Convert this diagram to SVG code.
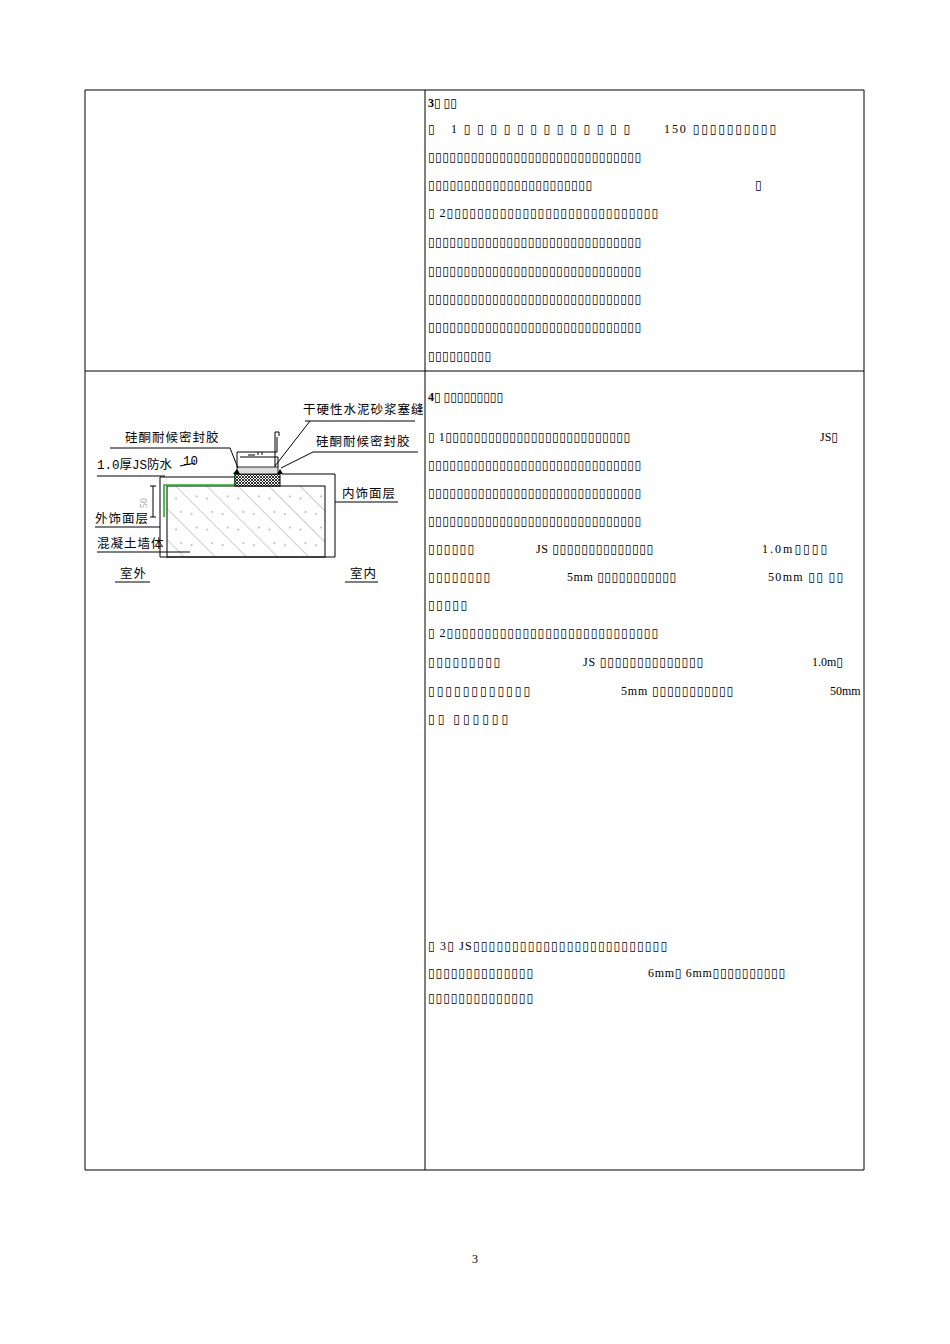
<svg xmlns="http://www.w3.org/2000/svg" width="950" height="1344" viewBox="0 0 950 1344">
<style>
.t{font-family:"Liberation Serif","DejaVu Serif",serif;font-size:12px;fill:#000}
.c{font-family:"Noto Sans CJK SC","DejaVu Sans",sans-serif;font-size:12.5px;fill:#000;letter-spacing:1px}
.l{stroke:#000;stroke-width:1;fill:none}
</style>
<defs>
<pattern id="hatch" patternUnits="userSpaceOnUse" width="22" height="22" patternTransform="rotate(-45)">
<line x1="0" y1="0" x2="0" y2="22" stroke="#555" stroke-width="0.6"/>
<circle cx="8" cy="6" r="0.7" fill="#666"/><circle cx="14" cy="15" r="0.7" fill="#666"/>
</pattern>
<pattern id="mesh" patternUnits="userSpaceOnUse" width="3" height="3">
<rect width="3" height="3" fill="#fff"/><path d="M0 0L3 3M3 0L0 3" stroke="#000" stroke-width="0.8"/>
</pattern>
</defs>
<g id="table">
<line class="l" x1="85" y1="90" x2="864" y2="90" stroke-width="1.5"/>
<line class="l" x1="85" y1="371" x2="864" y2="371"/>
<line class="l" x1="85" y1="1170" x2="864" y2="1170"/>
<line class="l" x1="85" y1="90" x2="85" y2="1170"/>
<line class="l" x1="425" y1="90" x2="425" y2="1170"/>
<line class="l" x1="864" y1="90" x2="864" y2="1170"/>
</g>
<g id="drawing">
<rect x="167" y="486" width="158" height="71" fill="url(#hatch)" stroke="#000"/>
<path class="l" d="M160 557V477H237M282 474H335V557H160"/>
<path d="M164 517V485H235V475H238" stroke="#1db31d" stroke-width="1.6" fill="none"/>
<rect x="235" y="474" width="45" height="12" fill="url(#mesh)" stroke="#000"/>
<rect x="237" y="467" width="41" height="7" fill="#ddd" stroke="#000" stroke-width="0.8"/>
<path class="l" d="M237 467V452H277M240 457H278V467M277 452V437M275 467V432H279V436M248 455H255M258 452v3M262 452v3"/>
<path d="M233 474l4-5 3 5zM277 474l3-5 3 5z" fill="#000"/>
<path class="l" d="M153 486V517M150 486H156M150 517H156" stroke-width="0.7"/>
<text x="147" y="503" transform="rotate(-90 147 503)" class="t" style="font-size:10px;fill:#999" text-anchor="middle">50</text>
<path class="l" d="M305 421H415M275 466L310 421M110 448H230L238 468M418 452H313L281 468M97 476H165M180 466L195 463M335 502H398M95 527H160M97 552H190M115 582H150M345 582H378" stroke-width="0.8"/>
<text class="c" x="303" y="414">干硬性水泥砂浆塞缝</text>
<text class="c" x="125" y="442">硅酮耐候密封胶</text>
<text class="c" x="316" y="446">硅酮耐候密封胶</text>
<text class="c" x="97" y="469" style="font-family:'Liberation Mono','Noto Sans CJK SC',monospace;letter-spacing:0">1.0厚JS防水</text>
<text class="c" x="183" y="465" style="font-family:'Liberation Mono',monospace;letter-spacing:0">10</text>
<text class="c" x="342" y="498">内饰面层</text>
<text class="c" x="95" y="523">外饰面层</text>
<text class="c" x="97" y="548">混凝土墙体</text>
<text class="c" x="120" y="578">室外</text>
<text class="c" x="350" y="578">室内</text>
</g>
<g id="text" class="t">
<text x="428" y="107"><tspan font-weight="bold">3</tspan>▯  ▯▯</text>
<text x="428" y="133" textLength="202" lengthAdjust="spacing">▯ 1▯▯▯▯▯▯▯▯▯▯▯▯▯</text>
<text x="664" y="133" textLength="112" lengthAdjust="spacing">150 ▯▯▯▯▯▯▯▯▯▯</text>
<text x="428" y="161" textLength="213" lengthAdjust="spacing">▯▯▯▯▯▯▯▯▯▯▯▯▯▯▯▯▯▯▯▯▯▯▯▯▯▯▯▯▯▯</text>
<text x="428" y="189" textLength="164" lengthAdjust="spacing">▯▯▯▯▯▯▯▯▯▯▯▯▯▯▯▯▯▯▯▯▯▯▯</text>
<text x="755" y="189">▯</text>
<text x="428" y="217" textLength="230" lengthAdjust="spacing">▯ 2▯▯▯▯▯▯▯▯▯▯▯▯▯▯▯▯▯▯▯▯▯▯▯▯▯▯▯▯</text>
<text x="428" y="246" textLength="213" lengthAdjust="spacing">▯▯▯▯▯▯▯▯▯▯▯▯▯▯▯▯▯▯▯▯▯▯▯▯▯▯▯▯▯▯</text>
<text x="428" y="275" textLength="213" lengthAdjust="spacing">▯▯▯▯▯▯▯▯▯▯▯▯▯▯▯▯▯▯▯▯▯▯▯▯▯▯▯▯▯▯</text>
<text x="428" y="303" textLength="213" lengthAdjust="spacing">▯▯▯▯▯▯▯▯▯▯▯▯▯▯▯▯▯▯▯▯▯▯▯▯▯▯▯▯▯▯</text>
<text x="428" y="331" textLength="213" lengthAdjust="spacing">▯▯▯▯▯▯▯▯▯▯▯▯▯▯▯▯▯▯▯▯▯▯▯▯▯▯▯▯▯▯</text>
<text x="428" y="360" textLength="63" lengthAdjust="spacing">▯▯▯▯▯▯▯▯▯</text>
<text x="428" y="401"><tspan font-weight="bold">4</tspan>▯  ▯▯▯▯▯▯▯▯▯</text>
<text x="428" y="441" textLength="202" lengthAdjust="spacing">▯ 1▯▯▯▯▯▯▯▯▯▯▯▯▯▯▯▯▯▯▯▯▯▯▯▯▯▯</text>
<text x="820" y="441">JS▯</text>
<text x="428" y="469" textLength="213" lengthAdjust="spacing">▯▯▯▯▯▯▯▯▯▯▯▯▯▯▯▯▯▯▯▯▯▯▯▯▯▯▯▯▯▯</text>
<text x="428" y="497" textLength="213" lengthAdjust="spacing">▯▯▯▯▯▯▯▯▯▯▯▯▯▯▯▯▯▯▯▯▯▯▯▯▯▯▯▯▯▯</text>
<text x="428" y="525" textLength="213" lengthAdjust="spacing">▯▯▯▯▯▯▯▯▯▯▯▯▯▯▯▯▯▯▯▯▯▯▯▯▯▯▯▯▯▯</text>
<text x="428" y="553" textLength="46" lengthAdjust="spacing">▯▯▯▯▯▯</text>
<text x="536" y="553" textLength="117" lengthAdjust="spacing">JS ▯▯▯▯▯▯▯▯▯▯▯▯▯▯</text>
<text x="762" y="553" textLength="65" lengthAdjust="spacing">1.0m▯▯▯▯</text>
<text x="428" y="581" textLength="62" lengthAdjust="spacing">▯▯▯▯▯▯▯▯</text>
<text x="567" y="581" textLength="109" lengthAdjust="spacing">5mm ▯▯▯▯▯▯▯▯▯▯▯</text>
<text x="768" y="581" textLength="75" lengthAdjust="spacing">50mm ▯▯ ▯▯</text>
<text x="428" y="609" textLength="39" lengthAdjust="spacing">▯▯▯▯▯</text>
<text x="428" y="637" textLength="230" lengthAdjust="spacing">▯ 2▯▯▯▯▯▯▯▯▯▯▯▯▯▯▯▯▯▯▯▯▯▯▯▯▯▯▯▯</text>
<text x="428" y="666" textLength="72" lengthAdjust="spacing">▯▯▯▯▯▯▯▯▯</text>
<text x="583" y="666" textLength="120" lengthAdjust="spacing">JS ▯▯▯▯▯▯▯▯▯▯▯▯▯▯</text>
<text x="812" y="666">1.0m▯</text>
<text x="428" y="695" textLength="102" lengthAdjust="spacing">▯▯▯▯▯▯▯▯▯▯▯▯</text>
<text x="621" y="695" textLength="112" lengthAdjust="spacing">5mm ▯▯▯▯▯▯▯▯▯▯▯</text>
<text x="830" y="695">50mm</text>
<text x="428" y="723" textLength="80" lengthAdjust="spacing">▯▯ ▯▯▯▯▯▯</text>
<text x="428" y="950" textLength="239" lengthAdjust="spacing">▯ 3▯ JS▯▯▯▯▯▯▯▯▯▯▯▯▯▯▯▯▯▯▯▯▯▯▯▯▯</text>
<text x="428" y="977" textLength="105" lengthAdjust="spacing">▯▯▯▯▯▯▯▯▯▯▯▯▯▯</text>
<text x="648" y="977" textLength="137" lengthAdjust="spacing">6mm▯ 6mm▯▯▯▯▯▯▯▯▯▯</text>
<text x="428" y="1002" textLength="105" lengthAdjust="spacing">▯▯▯▯▯▯▯▯▯▯▯▯▯▯</text>
<text x="475" y="1263" text-anchor="middle">3</text>
</g>
</svg>
